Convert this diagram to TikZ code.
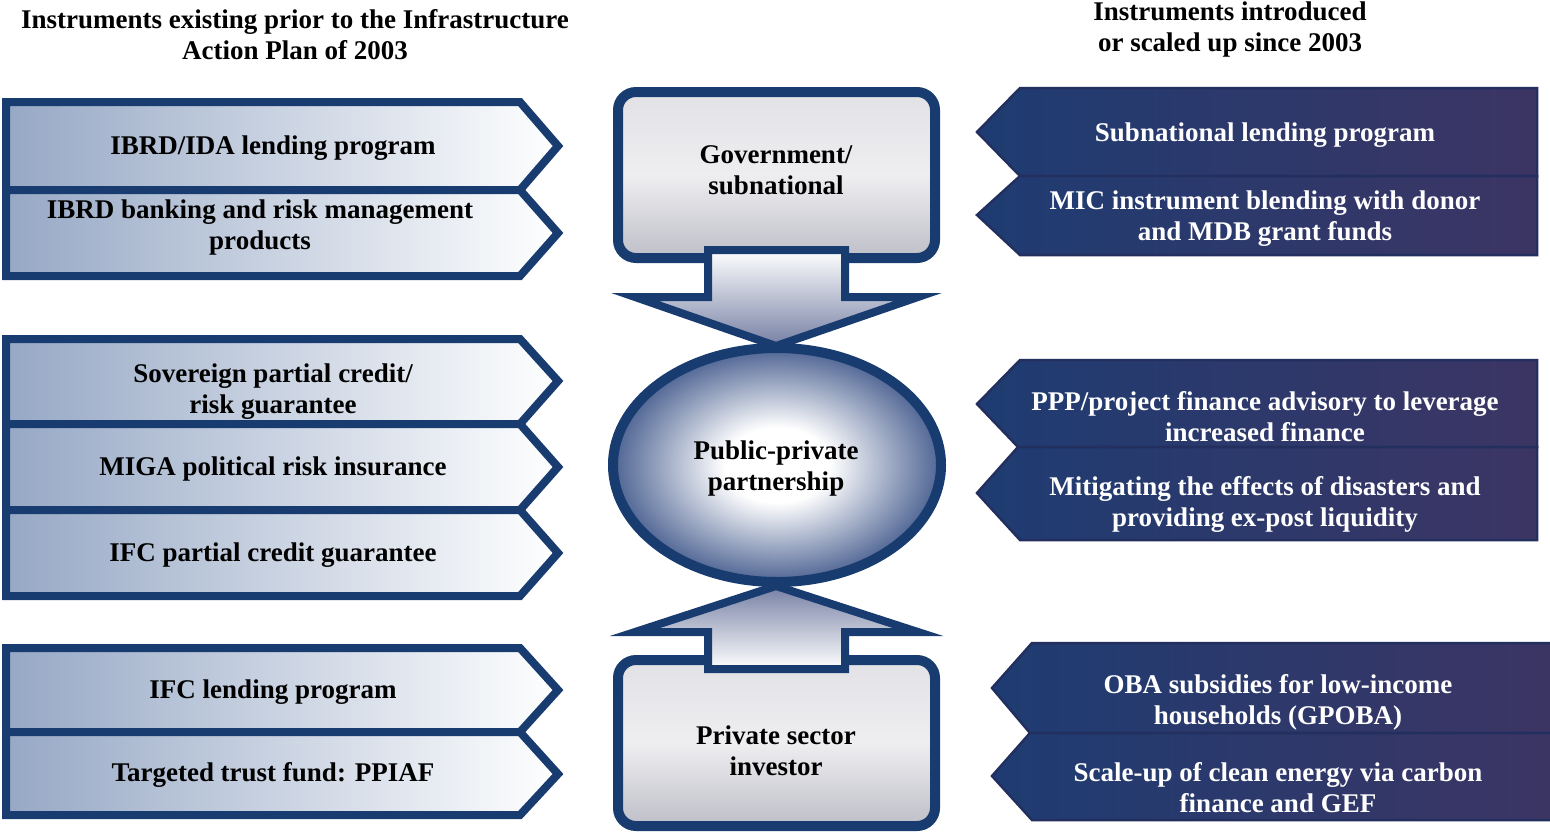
\documentclass[tikz,border=0pt]{standalone}
\usepackage{fontspec}
\setmainfont{Liberation Serif}
\usepackage{xcolor}

\definecolor{navy}{RGB}{25,60,112}
\definecolor{chevleft}{RGB}{150,168,197}
\definecolor{darkleft}{RGB}{30,60,114}
\definecolor{darkright}{RGB}{60,53,100}
\definecolor{darkedge}{RGB}{34,47,95}
\definecolor{boxtop}{RGB}{226,226,230}
\definecolor{boxmid}{RGB}{238,238,241}
\definecolor{boxbot}{RGB}{190,191,199}
\definecolor{arrowdark}{RGB}{118,128,164}
\definecolor{pppblue}{RGB}{78,100,147}

\pgfdeclareradialshading{pppglow}{\pgfpoint{0bp}{0bp}}{color(0bp)=(white); color(8bp)=(white); color(25bp)=(pppblue); color(50bp)=(pppblue)}

\tikzset{
  oldchev/.style={draw=navy, line width=8, line join=miter, left color=chevleft, right color=white},
  newchev/.style={draw=darkedge, line width=2.5, line join=miter, left color=darkleft, right color=darkright},
  actorbox/.style={draw=navy, line width=10, rounded corners=18, top color=boxtop, bottom color=boxbot, middle color=boxmid},
  flowarrow/.style={draw=navy, line width=8, line join=miter},
  lbl/.style={font=\fontsize{27}{31}\selectfont\bfseries, align=center, inner sep=0pt, text=black, yshift=-2pt},
  lblw/.style={lbl, text=white},
}

\begin{document}
\begin{tikzpicture}[x=1pt,y=-1pt]
\fill[white] (0,0) rectangle (1550,833);
\useasboundingbox (0,0) rectangle (1550,833);

%Shape: left chevrons, first group
\draw [oldchev] (6,102) -- (520,102) -- (558,146) -- (520,190) -- (6,190) -- cycle;
\draw [oldchev] (6,190) -- (520,190) -- (558,233) -- (520,276) -- (6,276) -- cycle;
%Shape: left chevrons, second group
\draw [oldchev] (6,339) -- (520,339) -- (558,381) -- (520,424) -- (6,424) -- cycle;
\draw [oldchev] (6,424) -- (520,424) -- (558,467) -- (520,510) -- (6,510) -- cycle;
\draw [oldchev] (6,510) -- (520,510) -- (558,553) -- (520,596) -- (6,596) -- cycle;
%Shape: left chevrons, third group
\draw [oldchev] (6,648) -- (520,648) -- (558,690) -- (520,732) -- (6,732) -- cycle;
\draw [oldchev] (6,732) -- (520,732) -- (558,774) -- (520,815) -- (6,815) -- cycle;

%Shape: right chevrons, first group
\draw [newchev] (1020,88) -- (1537,88) -- (1537,176) -- (1020,176) -- (977,132) -- cycle;
\draw [newchev] (1020,176) -- (1537,176) -- (1537,255) -- (1020,255) -- (977,215) -- cycle;
%Shape: right chevrons, second group
\draw [newchev] (1020,360) -- (1537,360) -- (1537,447) -- (1018,447) -- (977,404) -- cycle;
\draw [newchev] (1018,447) -- (1537,447) -- (1537,540) -- (1020,540) -- (977,493) -- cycle;
%Shape: right chevrons, third group
\draw [newchev] (1032,643) -- (1553,643) -- (1553,733) -- (1030,733) -- (992,688) -- cycle;
\draw [newchev] (1030,733) -- (1553,733) -- (1553,820) -- (1032,820) -- (992,776) -- cycle;

%Shape: centre boxes
\draw [actorbox] (618,92) rectangle (935,258);
\draw [actorbox] (618,660) rectangle (935,826);
%Shape: block arrows
\draw [flowarrow, top color=white, bottom color=arrowdark] (708,250) -- (845,250) -- (845,297) -- (918,297) -- (776,346) -- (635,297) -- (708,297) -- cycle;
\draw [flowarrow, top color=arrowdark, bottom color=white] (708,669) -- (845,669) -- (845,632) -- (918,632) -- (776,586) -- (635,632) -- (708,632) -- cycle;
%Shape: Ellipse
\draw [draw=navy, line width=10, shade, shading=pppglow] (777,465) ellipse [x radius=164, y radius=117];

% Text Node
\node [lbl] (oldhead) at (295,33) {Instruments existing prior to the Infrastructure\\Action Plan of 2003};
% Text Node
\node [lbl] (newhead) at (1230,28) {Instruments introduced\\or scaled up since 2003};

% Text Node
\node [lbl] (ibrdlend) at (273,146) {IBRD/IDA lending program};
% Text Node
\node [lbl] (ibrdbank) at (260,226) {IBRD banking and risk management\\products};
% Text Node
\node [lbl] (sovguar) at (273,390) {Sovereign partial credit/\\risk guarantee};
% Text Node
\node [lbl] (miga) at (273,467) {MIGA political risk insurance};
% Text Node
\node [lbl] (ifcguar) at (273,553) {IFC partial credit guarantee};
% Text Node
\node [lbl] (ifclend) at (273,690) {IFC lending program};
% Text Node
\node [lbl] (ppiaf) at (273,773) {Targeted trust fund: PPIAF};

% Text Node
\node [lbl] (govt) at (776,168) {Government/\\subnational};
% Text Node
\node [lbl] (ppp) at (776,466) {Public-private\\partnership};
% Text Node
\node [lbl] (private) at (776,749) {Private sector\\investor};

% Text Node
\node [lblw] (subnat) at (1265,133) {Subnational lending program};
% Text Node
\node [lblw] (mic) at (1265,217) {MIC instrument blending with donor\\and MDB grant funds};
% Text Node
\node [lblw] (advisory) at (1265,415) {PPP/project finance advisory to leverage\\increased finance};
% Text Node
\node [lblw] (disaster) at (1265,502) {Mitigating the effects of disasters and\\providing ex-post liquidity};
% Text Node
\node [lblw] (oba) at (1278,700) {OBA subsidies for low-income\\households (GPOBA)};
% Text Node
\node [lblw] (carbon) at (1278,786) {Scale-up of clean energy via carbon\\finance and GEF};
\end{tikzpicture}
\end{document}
